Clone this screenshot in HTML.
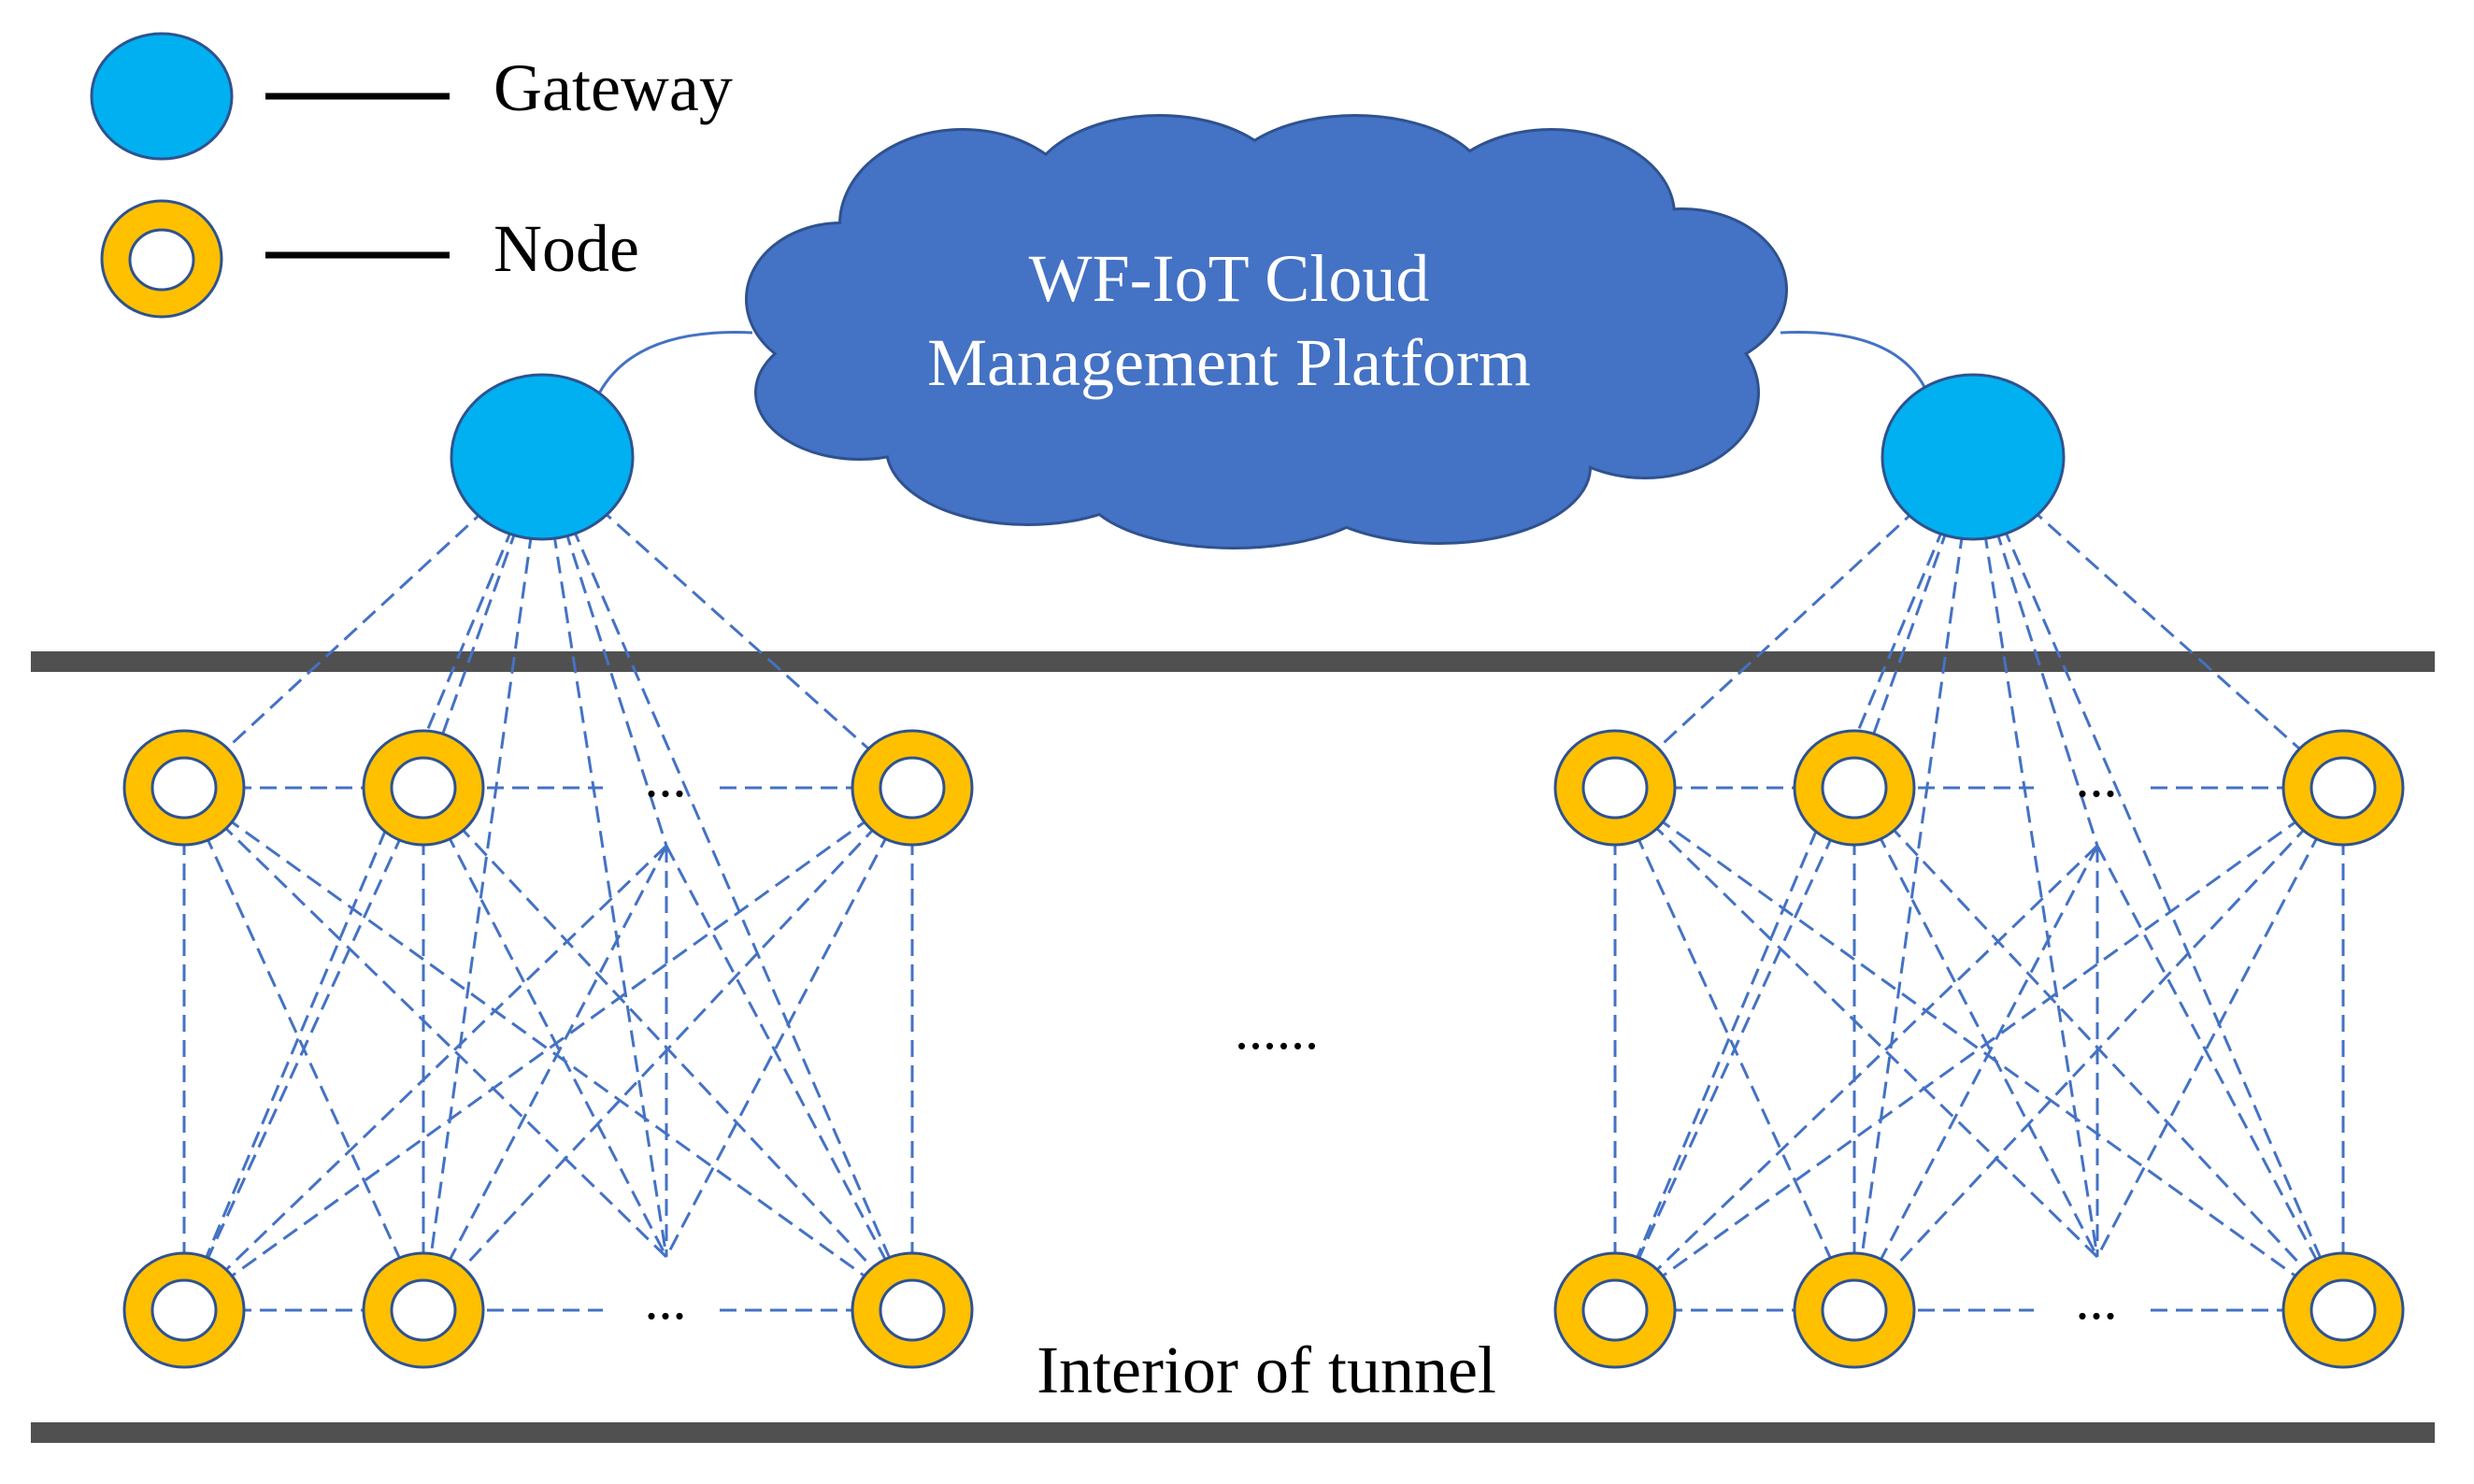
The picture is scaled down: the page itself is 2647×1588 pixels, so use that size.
<!DOCTYPE html>
<html><head><meta charset="utf-8"><style>
html,body{margin:0;padding:0;background:#fff;}
svg{display:block;}
</style></head><body>
<svg width="2647" height="1588" viewBox="0 0 2647 1588" xmlns="http://www.w3.org/2000/svg">
<defs>
<g id="grp">
  <g stroke="#4472C4" stroke-width="3" stroke-dasharray="18 9" fill="none">
    <line x1="580" y1="489" x2="197" y2="843"/>
    <line x1="580" y1="489" x2="453" y2="843"/>
    <line x1="580" y1="489" x2="713" y2="905"/>
    <line x1="580" y1="489" x2="976" y2="843"/>
    <line x1="580" y1="489" x2="197" y2="1402"/>
    <line x1="580" y1="489" x2="453" y2="1402"/>
    <line x1="580" y1="489" x2="713" y2="1345"/>
    <line x1="580" y1="489" x2="976" y2="1402"/>
    <line x1="197" y1="843" x2="197" y2="1402"/>
    <line x1="453" y1="843" x2="453" y2="1402"/>
    <line x1="713" y1="905" x2="713" y2="1345"/>
    <line x1="976" y1="843" x2="976" y2="1402"/>
    <line x1="197" y1="843" x2="453" y2="1402"/>
    <line x1="197" y1="843" x2="713" y2="1345"/>
    <line x1="197" y1="843" x2="976" y2="1402"/>
    <line x1="453" y1="843" x2="197" y2="1402"/>
    <line x1="453" y1="843" x2="713" y2="1345"/>
    <line x1="453" y1="843" x2="976" y2="1402"/>
    <line x1="713" y1="905" x2="197" y2="1402"/>
    <line x1="713" y1="905" x2="453" y2="1402"/>
    <line x1="713" y1="905" x2="976" y2="1402"/>
    <line x1="976" y1="843" x2="197" y2="1402"/>
    <line x1="976" y1="843" x2="453" y2="1402"/>
    <line x1="976" y1="843" x2="713" y2="1345"/>
    <line x1="197" y1="843" x2="645" y2="843"/>
    <line x1="770" y1="843" x2="976" y2="843"/>
    <line x1="197" y1="1402" x2="645" y2="1402"/>
    <line x1="770" y1="1402" x2="976" y2="1402"/>
  </g>
  <ellipse cx="580" cy="489" rx="97" ry="88" fill="#00B0F0" stroke="#2F528F" stroke-width="3"/>
  <g fill="#FFC000" stroke="#2F528F" stroke-width="3">
    <ellipse cx="197" cy="843" rx="64" ry="61"/><ellipse cx="453" cy="843" rx="64" ry="61"/><ellipse cx="976" cy="843" rx="64" ry="61"/>
    <ellipse cx="197" cy="1402" rx="64" ry="61"/><ellipse cx="453" cy="1402" rx="64" ry="61"/><ellipse cx="976" cy="1402" rx="64" ry="61"/>
  </g>
  <g fill="#fff" stroke="#2F528F" stroke-width="3">
    <ellipse cx="197" cy="843" rx="34" ry="32"/><ellipse cx="453" cy="843" rx="34" ry="32"/><ellipse cx="976" cy="843" rx="34" ry="32"/>
    <ellipse cx="197" cy="1402" rx="34" ry="32"/><ellipse cx="453" cy="1402" rx="34" ry="32"/><ellipse cx="976" cy="1402" rx="34" ry="32"/>
  </g>
  <text x="712" y="852" font-family="Liberation Serif, serif" font-size="60" text-anchor="middle" fill="#000">...</text>
  <text x="712" y="1411" font-family="Liberation Serif, serif" font-size="60" text-anchor="middle" fill="#000">...</text>
</g>
</defs>

<ellipse cx="173" cy="103" rx="75" ry="67" fill="#00B0F0" stroke="#2F528F" stroke-width="3"/>
<ellipse cx="173" cy="277" rx="64" ry="62" fill="#FFC000" stroke="#2F528F" stroke-width="3"/>
<ellipse cx="173" cy="278" rx="34" ry="32" fill="#fff" stroke="#2F528F" stroke-width="3"/>
<line x1="284" y1="103" x2="481" y2="103" stroke="#000" stroke-width="7"/>
<line x1="284" y1="273" x2="481" y2="273" stroke="#000" stroke-width="7"/>
<text x="528" y="118" font-family="Liberation Serif, serif" font-size="72" fill="#000">Gateway</text>
<text x="528" y="290" font-family="Liberation Serif, serif" font-size="72" fill="#000">Node</text>

<path d="M641 421 Q680 350 805 356" stroke="#4472C4" stroke-width="3" fill="none"/>
<path d="M1905 356 Q2030 350 2062 420" stroke="#4472C4" stroke-width="3" fill="none"/>

<g stroke="#2F528F" stroke-width="6" fill="#2F528F">
  <ellipse cx="900" cy="320" rx="100" ry="80"/>
  <ellipse cx="1030" cy="240" rx="130" ry="100"/>
  <ellipse cx="1240" cy="210" rx="140" ry="85"/>
  <ellipse cx="1450" cy="200" rx="140" ry="75"/>
  <ellipse cx="1660" cy="230" rx="130" ry="90"/>
  <ellipse cx="1800" cy="310" rx="110" ry="85"/>
  <ellipse cx="1760" cy="420" rx="120" ry="90"/>
  <ellipse cx="1540" cy="500" rx="160" ry="80"/>
  <ellipse cx="1320" cy="520" rx="160" ry="65"/>
  <ellipse cx="1100" cy="480" rx="150" ry="80"/>
  <ellipse cx="920" cy="420" rx="110" ry="70"/>
</g>
<g fill="#4472C4">
  <ellipse cx="900" cy="320" rx="100" ry="80"/>
  <ellipse cx="1030" cy="240" rx="130" ry="100"/>
  <ellipse cx="1240" cy="210" rx="140" ry="85"/>
  <ellipse cx="1450" cy="200" rx="140" ry="75"/>
  <ellipse cx="1660" cy="230" rx="130" ry="90"/>
  <ellipse cx="1800" cy="310" rx="110" ry="85"/>
  <ellipse cx="1760" cy="420" rx="120" ry="90"/>
  <ellipse cx="1540" cy="500" rx="160" ry="80"/>
  <ellipse cx="1320" cy="520" rx="160" ry="65"/>
  <ellipse cx="1100" cy="480" rx="150" ry="80"/>
  <ellipse cx="920" cy="420" rx="110" ry="70"/>
  <ellipse cx="1350" cy="355" rx="430" ry="170"/>
</g>
<text x="1315" y="322" font-family="Liberation Serif, serif" font-size="72" fill="#fff" text-anchor="middle">WF-IoT Cloud</text>
<text x="1315" y="412" font-family="Liberation Serif, serif" font-size="72" fill="#fff" text-anchor="middle">Management Platform</text>

<rect x="33" y="697" width="2572" height="22" fill="#505050"/>
<rect x="33" y="1522" width="2572" height="22" fill="#505050"/>

<use href="#grp"/>
<use href="#grp" transform="translate(1531,0)"/>

<text x="1366" y="1122" font-family="Liberation Serif, serif" font-size="60" text-anchor="middle" fill="#000">......</text>
<text x="1355" y="1490" font-family="Liberation Serif, serif" font-size="72" text-anchor="middle" fill="#000">Interior of tunnel</text>
</svg>
</body></html>
